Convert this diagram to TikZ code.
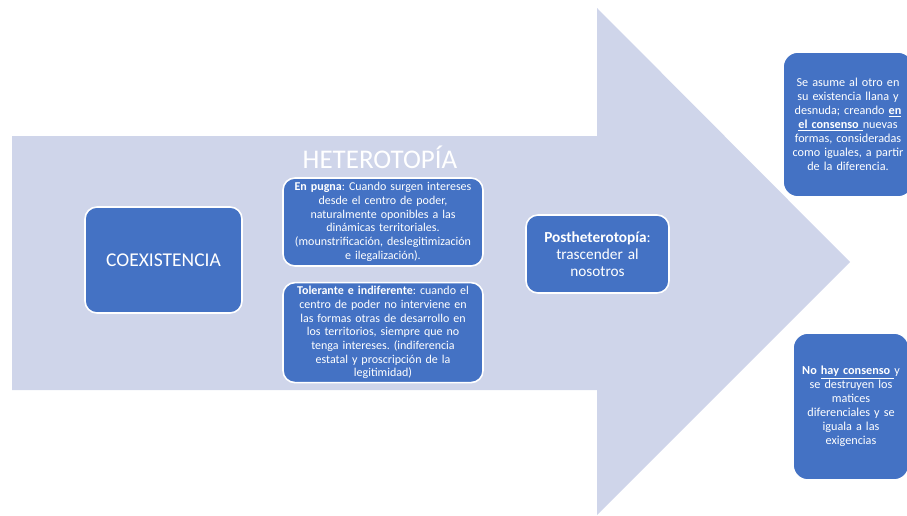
\documentclass[tikz,border=0pt]{standalone}
\usepackage{fontspec}
\setmainfont{Carlito}
\usetikzlibrary{positioning}
\definecolor{arrowfill}{HTML}{CFD5EA}
\definecolor{boxblue}{HTML}{4472C4}

\begin{document}
\frenchspacing
\begin{tikzpicture}[x=1pt,y=-1pt,
    box/.style={draw=white,line width=1.6pt,fill=boxblue,rounded corners=12pt,
      text=white,align=center,inner sep=0pt,font=\fontsize{12}{13.7}\selectfont},
    sidebox/.style={box,rounded corners=15pt,font=\fontsize{12.2}{14}\selectfont}]
    \useasboundingbox (0,0) rectangle (907,515);
    \clip (0,0) rectangle (907,515);

    % the big arrow
    \fill[arrowfill] (12,136) -- (597,136) -- (597,8) -- (850,262)
      -- (597,515) -- (597,390) -- (12,390) -- cycle;
    \node[text=white,font=\fontsize{27}{30}\selectfont] (title) at (380,157) {HETEROTOPÍA};

    \node[box,minimum width=157pt,minimum height=106pt,font=\fontsize{19.5}{23}\selectfont]
      (coex) at (163.5,260) {COEXISTENCIA};
    \node[box,minimum width=200pt,minimum height=88pt,text width=198pt] (pugna) at (383,222)
      {\textbf{En pugna}: Cuando surgen intereses\\ desde el centro de poder,\\
       naturalmente oponibles a las\\ dinámicas territoriales.\\
       (mounstrificación, deslegitimización\\ e ilegalización).};
    \node[box,minimum width=200pt,minimum height=100pt,text width=198pt] (toler)
      [below=15pt of pugna]
      {\textbf{Tolerante e indiferente}: cuando el\\ centro de poder no interviene en\\
       las formas otras de desarrollo en\\ los territorios, siempre que no\\
       tenga intereses. (indiferencia\\ estatal y proscripción de la\\ legitimidad)};
    \node[box,minimum width=143pt,minimum height=78pt,text width=139pt,
      font=\fontsize{15.3}{17}\selectfont] (post) at (597.5,254)
      {\textbf{Postheterotopía}:\\ trascender al\\ nosotros};

    % boxes at the tip
    \node[sidebox,minimum width=130pt,minimum height=145pt,text width=128pt] (igual) at (848,124.5)
      {Se asume al otro en\\ su existencia llana y\\
       desnuda; creando \underline{\textbf{en}}\\ \underline{\textbf{el consenso} }nuevas\\
       formas, consideradas\\ como iguales, a partir\\ de la diferencia.};
    \node[sidebox,minimum width=116pt,minimum height=147pt,text width=114pt] (destr) at (851,406.5)
      {\textbf{No} \underline{\textbf{hay consenso} }y\\ se destruyen los\\ matices\\
       diferenciales y se\\ iguala a las\\ exigencias};
  \end{tikzpicture}
\end{document}
